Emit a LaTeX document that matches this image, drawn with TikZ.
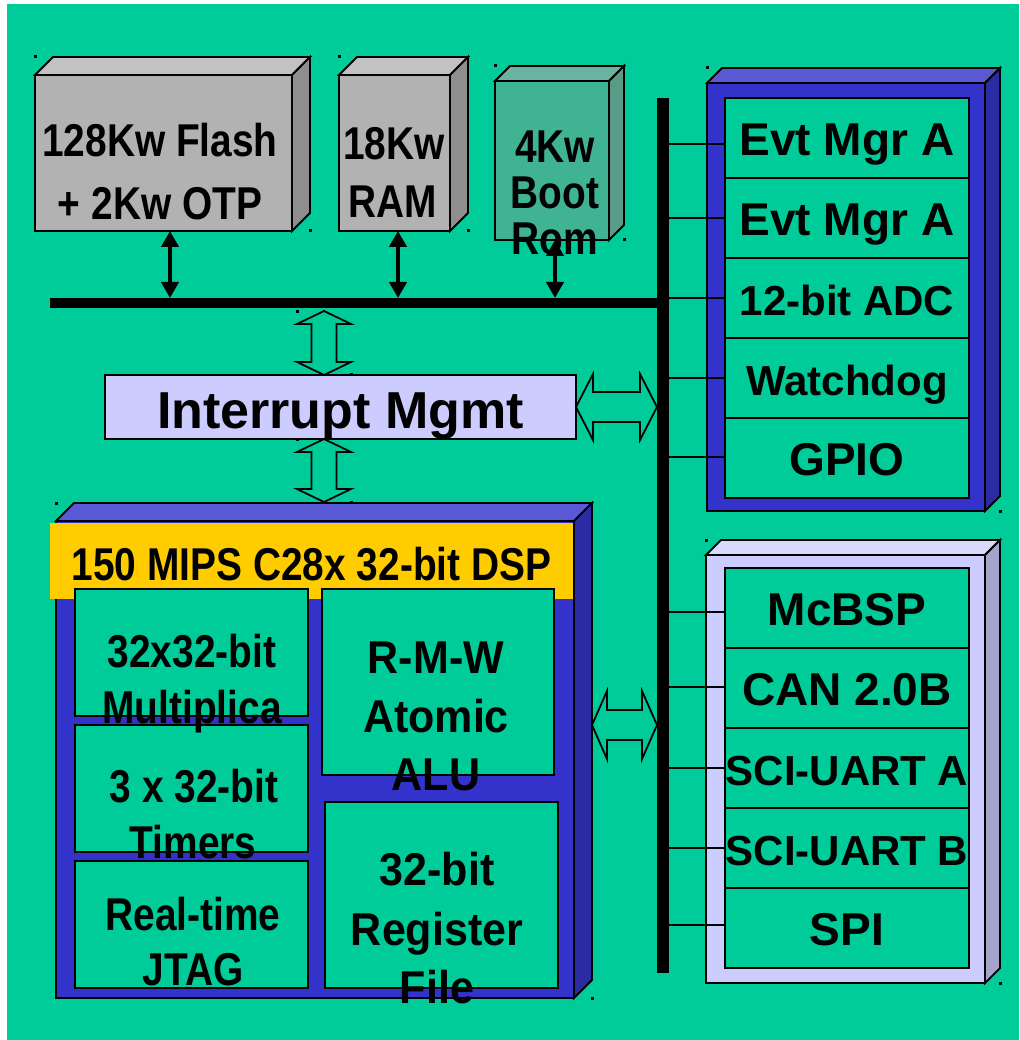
\documentclass[tikz,border=0pt]{standalone}
\usepackage{fontspec}
\newfontfamily\nfont[FakeStretch=0.845]{Liberation Sans}
\newfontfamily\mfont[FakeStretch=0.935]{Liberation Sans}
\newfontfamily\wfont{Liberation Sans}
\usetikzlibrary{calc,arrows.meta}
\definecolor{bg}{HTML}{00CC99}
\definecolor{grayF}{HTML}{B2B2B2}
\definecolor{grayT}{HTML}{C2C2C2}
\definecolor{grayS}{HTML}{8E8E8E}
\definecolor{bootF}{HTML}{40B393}
\definecolor{bootT}{HTML}{69B39F}
\definecolor{bootS}{HTML}{589C87}
\definecolor{blueF}{HTML}{3333CC}
\definecolor{blueT}{HTML}{5959D6}
\definecolor{blueS}{HTML}{2B2BA3}
\definecolor{lavF}{HTML}{CCCCFF}
\definecolor{lavT}{HTML}{D9D9FF}
\definecolor{lavS}{HTML}{A3A3CC}
\definecolor{gold}{HTML}{FFCC00}
% #1 name, #2 x1, #3 y1, #4 x2, #5 y2, #6 depth, #7 front, #8 top, #9 side
\newcommand{\cubebox}[9]{%
  \node[frontface, fill=#7, anchor=north west, minimum width={(#4-#2)*1pt}, minimum height={(#5-#3)*1pt}] (#1) at (#2,#3) {};
  \filldraw[edge, fill=#8] (#1.north west) -- ++(#6,-#6) -- ([shift={(#6,-#6)}]#1.north east) -- (#1.north east) -- cycle;
  \filldraw[edge, fill=#9] (#1.north east) -- ++(#6,-#6) -- ([shift={(#6,-#6)}]#1.south east) -- (#1.south east) -- cycle;
}
\newcommand{\mk}[2]{\fill (#1-1.5,#2-1.5) rectangle ++(3,3);}
% vertical block arrow: top tip, bottom tip
\newcommand{\varrow}[2]{%
  \path[blockarrow] let \p1=#1, \p2=#2 in
   (\x1,\y1) -- (\x1+27pt,\y1-13pt) -- (\x1+12.5pt,\y1-13pt) -- (\x1+12.5pt,\y2+13pt) -- (\x1+27pt,\y2+13pt)
   -- (\x1,\y2) -- (\x1-27pt,\y2+13pt) -- (\x1-12.5pt,\y2+13pt) -- (\x1-12.5pt,\y1-13pt) -- (\x1-27pt,\y1-13pt) -- cycle;}
% horizontal block arrow: left tip, right tip, half head, head length
\newcommand{\harrow}[4]{%
  \path[blockarrow] let \p1=#1, \p2=#2 in
   (\x1,\y1) -- (\x1+#4,\y1+#3) -- (\x1+#4,\y1+15pt) -- (\x2-#4,\y1+15pt) -- (\x2-#4,\y1+#3)
   -- (\x2,\y1) -- (\x2-#4,\y1-#3) -- (\x2-#4,\y1-15pt) -- (\x1+#4,\y1-15pt) -- (\x1+#4,\y1-#3) -- cycle;}
\begin{document}
\begin{tikzpicture}[x=1pt,y=-1pt,
  edge/.style={draw=black, line width=1.8pt},
  frontface/.style={edge, inner sep=0pt, outer sep=0pt},
  cell/.style={frontface, fill=bg, anchor=north west},
  row/.style={cell, minimum width=244pt, minimum height=80pt, text height=35pt, text depth=0pt},
  blockarrow/.style={draw=black, line width=1.8pt, fill=bg},
  thinarr/.style={line width=4.5pt, {Triangle[length=16pt,width=17pt]}-{Triangle[length=16pt,width=17pt]}},
  conn/.style={line width=2pt},
  bus/.style={fill=black, inner sep=0pt, outer sep=0pt},
  nar/.style={font=\nfont\bfseries\fontsize{46pt}{46pt}\selectfont, inner sep=0pt, anchor=base},
  mid/.style={font=\mfont\bfseries\fontsize{46pt}{46pt}\selectfont, inner sep=0pt, anchor=base},
  wbig/.style={font=\wfont\bfseries\fontsize{46pt}{46pt}\selectfont},
  wsmall/.style={font=\wfont\bfseries\fontsize{42pt}{42pt}\selectfont},
  whuge/.style={font=\wfont\bfseries\fontsize{52pt}{52pt}\selectfont}
]
\useasboundingbox (0,0) rectangle (1019,1040);
\fill[white] (0,0) rectangle (1019,1040);
\fill[bg] (7,4) rectangle (1019,1040);

% memories
\cubebox{flash}{35}{75}{292}{231}{18}{grayF}{grayT}{grayS}
\cubebox{ram}{339}{75}{450}{231}{18}{grayF}{grayT}{grayS}
\cubebox{boot}{495}{81}{609}{240}{15}{bootF}{bootT}{bootS}

% peripheral frames
\cubebox{pfa}{707}{83}{985}{511}{15}{blueF}{blueT}{blueS}
\cubebox{pfb}{706}{555}{985}{983}{15}{lavF}{lavT}{lavS}

% DSP
\node[frontface, fill=blueF, anchor=north west, minimum width=518pt, minimum height=477pt] (dsp) at (56,521) {};
\fill[gold] (50,522.9) rectangle (573.1,599);
\filldraw[edge, fill=blueT] (dsp.north west) -- ++(18,-18) -- ([shift={(18,-18)}]dsp.north east) -- (dsp.north east) -- cycle;
\filldraw[edge, fill=blueS] (dsp.north east) -- ++(18,-18) -- ([shift={(18,-18)}]dsp.south east) -- (dsp.south east) -- cycle;
\coordinate (dsptop) at ($(dsp.north west)+(18,-18)$);

\node[cell, minimum width=233pt, minimum height=127pt] (mult) at (75,589) {};
\node[cell, minimum width=233pt, minimum height=127pt] (tmr) at (75,725) {};
\node[cell, minimum width=233pt, minimum height=127pt] (jtag) at (75,861) {};
\node[cell, minimum width=232pt, minimum height=186pt] (rmw) at (322,589) {};
\node[cell, minimum width=233pt, minimum height=186pt] (reg) at (325,802) {};

% buses
\node[bus, anchor=north, minimum width=12pt, minimum height=875pt] (vbus) at (663,98) {};
\node[bus, anchor=west, minimum width=613pt, minimum height=10pt] (hbus) at (50,303) {};

% interrupt
\node[frontface, fill=lavF, anchor=north west, minimum width=471pt, minimum height=64pt,
      whuge, text height=43pt, text depth=0pt] (intr) at (105,375) {Interrupt Mgmt};

% peripheral rows
\foreach \t/\s [count=\i from 0] in {Evt Mgr A/wbig, Evt Mgr A/wbig, 12-bit ADC/wsmall, Watchdog/wsmall, GPIO/wbig}
  \node[row, \s] (pa\i) at (725,98+80*\i) {\t};
\foreach \t/\s [count=\i from 0] in {McBSP/wbig, CAN 2.0B/wbig, SCI-UART A/wsmall, SCI-UART B/wsmall, SPI/wbig}
  \node[row, \s] (pb\i) at (725,568+80*\i) {\t};

\foreach \n/\o in {pa0/6,pa1/0,pa2/0,pa3/0,pa4/-1,pb0/4,pb1/-1,pb2/0,pb3/0,pb4/-3} {
  \coordinate (c\n) at ($(\n.west)+(0,\o)$);
  \draw[conn] (vbus.east |- c\n) -- (c\n);
}

% thin arrows memory <-> bus
\coordinate (fax) at (170,0);
\coordinate (rax) at (398,0);
\coordinate (bax) at (555,0);
\draw[thinarr] (fax |- flash.south) -- (fax |- hbus.north);
\draw[thinarr] (rax |- ram.south) -- (rax |- hbus.north);
\draw[thinarr] (bax |- boot.south) -- (bax |- hbus.north);

% block arrows
\coordinate (vax) at (324,0);
\varrow{($(vax |- hbus.south)+(0,3)$)}{(vax |- intr.north)}
\varrow{(vax |- intr.south)}{($(vax |- dsptop)+(0,-1)$)}
\harrow{(intr.east)}{(vbus.west |- intr.east)}{33pt}{17pt}
\coordinate (hay) at (0,725);
\harrow{($(dsp.east |- hay)+(18,0)$)}{(vbus.west |- hay)}{34pt}{15pt}

% texts
\node[nar] (tf1) at (160,157) {128Kw Flash};
\node[nar] (tf2) at (160,220) {+ 2Kw OTP};
\node[nar] (tr1) at (394,160) {18Kw};
\node[nar] (tr2) at (393,218) {RAM};
\node[nar] (tb1) at (555,163) {4Kw};
\node[nar] (tb2) at (555,209) {Boot};
\node[nar] (tb3) at (555,255) {Rom};
\node[nar] (td) at (311.5,580) {150 MIPS C28x 32-bit DSP};
\node[nar] (tm1) at (192,667) {32x32-bit};
\node[nar] (tm2) at (192,723) {Multiplica};
\node[nar] (tt1) at (194,802) {3 x 32-bit};
\node[nar] (tt2) at (193,858) {Timers};
\node[nar] (tj1) at (193,930) {Real-time};
\node[nar] (tj2) at (193,985) {JTAG};
\node[mid] (ta1) at (436,673) {R-M-W};
\node[mid] (ta2) at (436,732) {Atomic};
\node[mid] (ta3) at (436,790) {ALU};
\node[mid] (tg1) at (437,885) {32-bit};
\node[mid] (tg2) at (437,945) {Register};
\node[mid] (tg3) at (437,1003) {File};

% selection marks
\mk{35}{57}\mk{310}{231}
\mk{339}{57}\mk{468}{231}
\mk{495}{66}\mk{624}{240}
\mk{707}{68}\mk{1000}{511}
\mk{706}{540}\mk{1000}{983}
\mk{56}{503}\mk{592}{998}
\mk{297}{311}\mk{351}{374}
\mk{297}{439}\mk{351}{502}
\end{tikzpicture}
\end{document}
